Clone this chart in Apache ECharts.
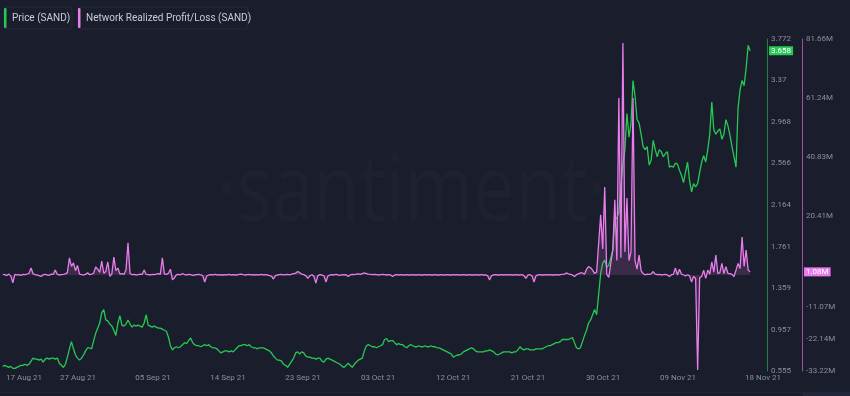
<!DOCTYPE html>
<html><head><meta charset="utf-8">
<script src="https://cdn.jsdelivr.net/npm/echarts@6/dist/echarts.min.js"></script>
<style>html,body{margin:0;padding:0;background:#1a1d2c;}#c{width:850px;height:396px;}</style>
</head><body><div id="c"></div>
<script>
// time grid: one point every 6 hours starting 17 Aug 2021 18:00 UTC (x values in hours from start)
const START = Date.UTC(2021, 7, 17, 18);
const STEP_HOURS = 6;

// Price (SAND), USD
const price = [
0.60,0.61,0.60,0.59,0.60,0.58,0.58,0.59,0.60,0.61,
0.61,0.62,0.61,0.62,0.65,0.68,0.67,0.67,0.66,0.67,
0.64,0.67,0.68,0.67,0.68,0.68,0.67,0.68,0.63,0.61,
0.59,0.62,0.69,0.77,0.84,0.77,0.71,0.68,0.66,0.68,
0.71,0.75,0.78,0.78,0.77,0.85,0.92,0.97,1.02,1.12,
1.15,1.05,1.04,1.01,0.99,0.95,0.90,1.02,1.09,1.00,
0.99,1.01,1.05,1.01,0.98,1.00,0.99,1.00,0.99,0.98,
1.02,1.10,1.00,0.99,0.98,0.99,0.98,0.97,0.97,0.96,
0.95,0.94,0.885,0.80,0.76,0.78,0.79,0.78,0.79,0.81,
0.83,0.82,0.85,0.875,0.83,0.81,0.80,0.80,0.79,0.80,
0.81,0.80,0.81,0.79,0.78,0.78,0.77,0.75,0.73,0.74,
0.75,0.75,0.74,0.75,0.74,0.76,0.78,0.80,0.80,0.81,
0.81,0.80,0.81,0.79,0.78,0.78,0.77,0.78,0.78,0.78,
0.77,0.76,0.75,0.73,0.70,0.68,0.66,0.66,0.65,0.62,
0.61,0.59,0.62,0.65,0.68,0.73,0.74,0.72,0.74,0.73,
0.70,0.69,0.69,0.68,0.68,0.67,0.68,0.68,0.65,0.64,
0.67,0.68,0.67,0.66,0.65,0.64,0.63,0.62,0.60,0.59,
0.61,0.63,0.61,0.59,0.62,0.64,0.66,0.67,0.68,0.75,
0.80,0.81,0.80,0.79,0.79,0.78,0.79,0.80,0.81,0.86,
0.87,0.84,0.85,0.85,0.83,0.81,0.82,0.81,0.81,0.79,
0.78,0.80,0.81,0.80,0.79,0.79,0.80,0.79,0.79,0.80,
0.79,0.79,0.80,0.79,0.79,0.78,0.78,0.77,0.76,0.75,
0.74,0.73,0.72,0.69,0.70,0.71,0.71,0.72,0.74,0.75,
0.76,0.77,0.78,0.77,0.75,0.74,0.74,0.74,0.74,0.75,
0.75,0.76,0.75,0.74,0.72,0.71,0.72,0.73,0.74,0.74,
0.74,0.74,0.73,0.74,0.74,0.76,0.79,0.77,0.76,0.77,
0.77,0.76,0.76,0.76,0.77,0.77,0.77,0.77,0.78,0.79,
0.80,0.80,0.81,0.82,0.83,0.83,0.84,0.86,0.86,0.86,
0.86,0.87,0.88,0.83,0.78,0.77,0.78,0.84,0.90,0.95,
1.02,1.05,1.10,1.15,1.10,1.30,1.50,1.60,1.63,1.56,
1.58,1.65,1.73,2.04,2.03,2.10,2.35,2.55,2.70,3.05,
2.82,2.95,3.37,3.22,2.99,2.96,2.85,2.73,2.70,2.73,
2.55,2.60,2.79,2.70,2.63,2.70,2.68,2.63,2.66,2.68,
2.53,2.54,2.53,2.57,2.56,2.50,2.45,2.38,2.48,2.58,
2.40,2.29,2.37,2.34,2.37,2.48,2.58,2.64,2.58,2.70,
2.85,3.16,2.89,2.85,2.88,2.90,2.80,2.85,2.99,2.93,
2.84,2.73,2.63,2.53,3.10,3.28,3.37,3.32,3.49,3.71,3.658
];

// Network Realized Profit/Loss (SAND), millions
const profitLoss = [
0.2,0.1,-0.2,0.3,-0.4,-2.7,0.2,0.0,0.1,-0.1,
0.2,0.1,0.3,0.6,2.4,0.4,0.1,0.0,-0.2,-0.5,
0.1,0.2,0.0,-0.1,0.3,0.2,1.7,0.2,0.0,0.1,
0.2,0.4,0.8,5.9,3.0,4.2,1.5,3.3,0.3,0.1,
0.0,0.2,0.8,0.1,0.3,0.6,2.8,2.0,0.9,4.8,
0.6,1.2,4.5,-0.5,0.4,6.2,1.5,2.4,0.3,0.5,
0.2,1.7,11.1,0.5,0.1,0.2,0.0,0.1,0.3,0.2,
1.7,0.2,0.1,0.0,0.2,0.1,0.3,0.5,0.2,5.9,
0.4,0.2,0.6,2.0,-1.7,-1.0,0.1,0.2,0.0,0.5,
0.1,0.0,0.2,0.1,-0.1,0.0,0.1,0.2,0.0,-0.2,
-2.4,-0.3,0.0,0.1,0.0,0.2,0.0,0.1,0.0,0.0,
0.1,0.0,0.2,0.0,0.1,0.0,0.0,0.2,0.3,0.1,
0.0,0.1,0.2,0.0,0.1,0.0,0.1,0.0,0.2,0.0,
0.1,0.0,-0.2,-0.4,-1.4,-0.2,0.0,0.1,0.2,0.0,
0.1,0.2,0.0,0.3,0.5,0.6,1.2,0.8,0.3,0.1,
-0.2,-1.2,-0.3,0.1,-0.4,-2.8,-0.2,0.1,0.0,-0.3,
-2.4,-0.3,0.0,0.1,0.0,0.2,0.0,-0.1,0.1,0.0,
0.1,-0.5,0.0,0.2,0.1,0.3,0.4,0.2,0.5,0.7,
0.5,0.3,0.2,0.1,0.2,0.1,0.0,0.1,0.2,0.1,
0.0,0.1,0.0,-0.5,0.0,0.1,0.0,0.1,0.0,0.0,
0.1,0.0,0.0,0.1,0.0,0.0,0.1,0.0,0.0,0.1,
0.0,0.1,0.0,0.0,0.1,0.0,0.0,0.1,0.0,0.0,
0.1,0.0,0.0,0.1,0.0,0.1,0.0,0.0,0.1,0.0,
0.0,0.1,0.0,0.0,0.1,0.0,0.0,0.1,0.0,0.0,
-0.2,-1.7,-0.2,0.0,0.1,0.0,0.0,0.1,0.0,0.1,
0.0,0.1,0.0,0.0,0.1,0.0,0.0,0.1,-0.2,-1.2,
0.0,0.1,-0.3,-2.4,-0.2,0.0,0.1,0.0,0.0,0.1,
0.0,0.1,0.0,0.0,0.1,0.0,0.1,0.2,0.3,0.7,
0.4,0.2,0.0,-0.5,0.1,0.4,0.7,0.7,0.3,2.0,
2.9,2.5,1.7,0.5,1.0,11.0,20.8,9.0,30.4,0.3,
-0.8,4.0,8.65,26.0,5.0,61.2,6.0,80.3,8.0,26.6,
5.0,8.0,61.2,5.0,2.0,6.9,1.5,0.5,0.0,0.3,
0.2,0.4,1.2,0.3,0.1,0.2,0.0,0.1,0.2,0.0,
-0.5,0.1,0.2,2.4,0.0,2.0,0.3,0.0,-0.3,0.1,
-0.3,-2.4,-0.5,-1.2,-32.9,-1.0,-0.5,1.7,-1.2,1.7,
0.3,4.5,1.0,6.9,0.5,0.8,4.0,0.5,2.9,0.5,
0.5,0.2,-0.5,1.7,4.0,2.2,13.1,3.0,8.65,1.7,1.08
];

// axis ticks (x in hours from START)
const xRangeHours = [-8.2, 2270];
const xTickHours = [63.1, 223.5, 446.3, 669.1, 891.8, 1114.6, 1337.4, 1560.1, 1782.9, 2005.7, 2258.2];
const xTickLabels = ['17 Aug 21','27 Aug 21','05 Sep 21','14 Sep 21','23 Sep 21','03 Oct 21','12 Oct 21','21 Oct 21','30 Oct 21','09 Nov 21','18 Nov 21'];
const priceTicks = [0.555, 0.957, 1.359, 1.761, 2.164, 2.566, 2.968, 3.37, 3.772];
const profitTicks = [-33.22, -22.14, -11.07, 20.41, 40.83, 61.24, 81.66];

const priceData = price.map((v, i) => [i * STEP_HOURS, v]);
const profitData = profitLoss.map((v, i) => [i * STEP_HOURS, v]);

const GREEN = '#26c953', PINK = '#e97deb';
const FONT = 'Roboto, "Noto Sans", sans-serif';
const LABEL = '#8b8fa0';

const chart = echarts.init(document.getElementById('c'), null, {renderer: 'canvas'});
const legendItem = (id, x, w, color, text) => ({
  type: 'group', id, x, y: 7, children: [
    {type: 'rect', shape: {x: 0, y: 0, width: w, height: 22, r: 3}, style: {fill: 'transparent', stroke: '#262a3c', lineWidth: 1}},
    {type: 'rect', shape: {x: 0, y: 1, width: 2.5, height: 20, r: 1}, style: {fill: color}},
    {type: 'text', x: 8, y: 11.5, style: {text, fill: '#c9ccd7', font: '10px ' + FONT, verticalAlign: 'middle'}}
  ]
});

const baseGraphic = [
  {type: 'text', id: 'wm', x: 412, y: 194, z: 0, scaleX: 0.8, silent: true,
   style: {text: '·santiment·', fill: 'rgba(255,255,255,0.018)', font: '93px "Open Sans", sans-serif', align: 'center', verticalAlign: 'middle'}},
  legendItem('lg1', 4, 68, GREEN, 'Price (SAND)'),
  legendItem('lg2', 78, 170, PINK, 'Network Realized Profit/Loss (SAND)'),
  {type: 'line', id: 'bl', shape: {x1: 0, y1: 392.5, x2: 850, y2: 392.5}, style: {stroke: '#22263a', lineWidth: 1}},
  {type: 'rect', id: 'br', shape: {x: 803, y: 393, width: 47, height: 4}, style: {fill: '#23273a'}}
];

chart.setOption({
  backgroundColor: '#1a1d2c',
  animation: false,
  grid: {left: 0, right: 83, top: 39, bottom: 25},
  graphic: baseGraphic,
  xAxis: {
    type: 'value', min: xRangeHours[0], max: xRangeHours[1],
    axisLine: {show: false, onZero: false}, axisTick: {show: false}, splitLine: {show: false},
    axisLabel: {
      customValues: xTickHours, hideOverlap: false, margin: 3,
      color: LABEL, fontSize: 8, fontFamily: FONT,
      formatter: v => { const k = xTickHours.findIndex(x => Math.abs(x - v) < 0.01); return k >= 0 ? xTickLabels[k] : ''; }
    }
  },
  yAxis: [
    {
      type: 'value', position: 'right', min: priceTicks[0], max: priceTicks[priceTicks.length - 1],
      axisLine: {show: true, onZero: false, lineStyle: {color: '#24803e', width: 1}}, axisTick: {show: false}, splitLine: {show: false},
      axisLabel: {customValues: priceTicks, color: LABEL, fontSize: 8, fontFamily: FONT, margin: 4,
        formatter: v => String(+(+v).toFixed(3))}
    },
    {
      type: 'value', position: 'right', offset: 35, min: profitTicks[0], max: profitTicks[profitTicks.length - 1],
      axisLine: {show: true, onZero: false, lineStyle: {color: '#a34ea6', width: 1}}, axisTick: {show: false}, splitLine: {show: false},
      axisLabel: {customValues: profitTicks, color: LABEL, fontSize: 8, fontFamily: FONT, margin: 4,
        formatter: v => (+v).toFixed(2) + 'M'}
    }
  ],
  series: [
    {name: 'Price (SAND)', type: 'line', yAxisIndex: 0, data: priceData, showSymbol: false, z: 2,
     lineStyle: {color: GREEN, width: 1.3}, itemStyle: {color: GREEN}},
    {name: 'Network Realized Profit/Loss (SAND)', type: 'line', yAxisIndex: 1, data: profitData, showSymbol: false, z: 3,
     lineStyle: {color: PINK, width: 1.3}, itemStyle: {color: PINK},
     areaStyle: {color: 'rgba(233,125,235,0.22)', origin: 0}}
  ]
});

// last-value tags placed through the axes' own scales
const lastP = price[price.length - 1], lastV = profitLoss[profitLoss.length - 1];
const yP = chart.convertToPixel({yAxisIndex: 0}, lastP);
const yV = chart.convertToPixel({yAxisIndex: 1}, lastV);
const ax0 = chart.convertToPixel({xAxisIndex: 0}, xRangeHours[1]);
chart.setOption({graphic: baseGraphic.concat([
  {type: 'text', id: 'tagP', x: ax0 + 2, y: yP, z: 10,
   style: {text: String(lastP), fill: '#ffffff', backgroundColor: GREEN, padding: [1, 2, 0, 2], font: '8px ' + FONT, verticalAlign: 'middle'}},
  {type: 'text', id: 'tagV', x: ax0 + 37, y: yV, z: 10,
   style: {text: lastV.toFixed(2) + 'M', fill: '#ffffff', backgroundColor: PINK, padding: [1, 2, 0, 2], font: '8px ' + FONT, verticalAlign: 'middle'}}
])});
</script></body></html>
